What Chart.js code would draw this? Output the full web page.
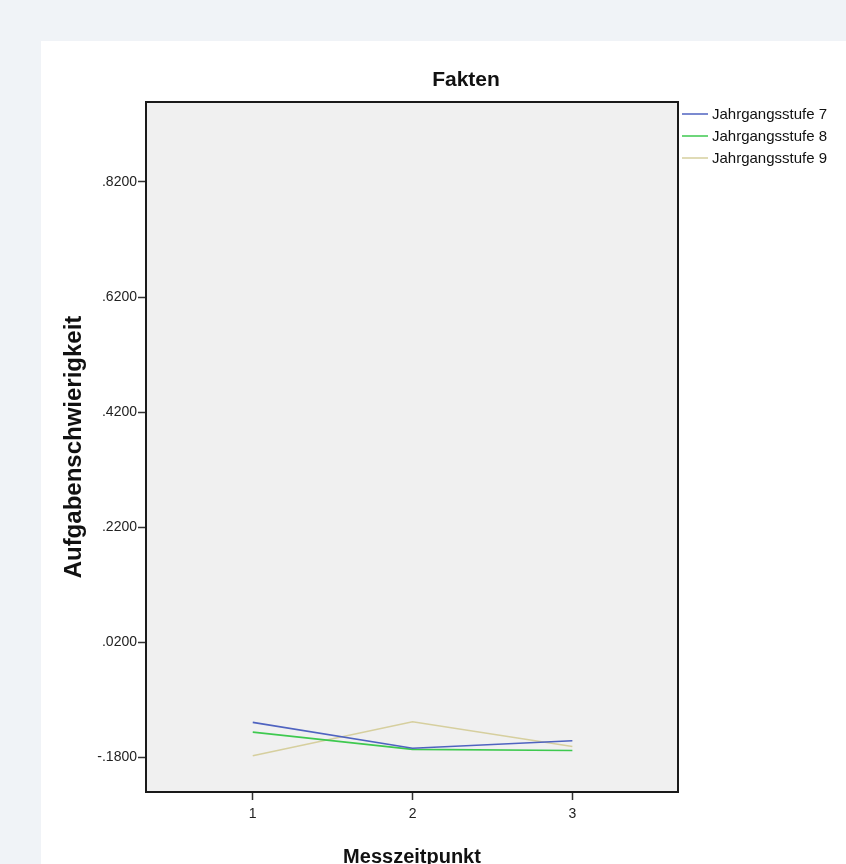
<!DOCTYPE html>
<html>
<head>
<meta charset="utf-8">
<script src="https://cdn.jsdelivr.net/npm/chart.js@4/dist/chart.umd.min.js"></script>
<style>
  html, body { margin: 0; padding: 0; width: 846px; height: 864px; overflow: hidden; background: #f0f3f7; }
  #panel { position: absolute; left: 41px; top: 41px; width: 805px; height: 823px; background: #ffffff; }
  #wrap { position: absolute; left: 0; top: 0; width: 846px; height: 900px; }
</style>
</head>
<body>
<div id="panel"></div>
<div id="wrap"><canvas id="c" width="846" height="900"></canvas></div>
<script>
const chartTitle = 'Fakten';
const xAxisTitle = 'Messzeitpunkt';
const yAxisTitle = 'Aufgabenschwierigkeit';
const messzeitpunkte = [1, 2, 3];
const seriesLabels = ['Jahrgangsstufe 7', 'Jahrgangsstufe 8', 'Jahrgangsstufe 9'];
const stufe7 = [-0.119, -0.164, -0.151];
const stufe8 = [-0.136, -0.166, -0.168];
const stufe9 = [-0.177, -0.118, -0.161];
const yTickValues = [-0.18, 0.02, 0.22, 0.42, 0.62, 0.82];
const xTickValues = [1, 2, 3];
const seriesColors = ['#4f63c0', '#3ec94f', '#d6cf9e'];

const FONT = "'Liberation Sans', Arial, sans-serif";

function toPoints(vals) { return messzeitpunkte.map((x, i) => ({ x: x, y: vals[i] })); }
const allSeries = [stufe7, stufe8, stufe9];

const framePlugin = {
  id: 'frame',
  beforeDatasetsDraw(chart) {
    const a = chart.chartArea, ctx = chart.ctx;
    ctx.save();
    ctx.fillStyle = '#f0f0f0';
    ctx.fillRect(a.left, a.top, a.right - a.left, a.bottom - a.top);
    ctx.restore();
  },
  afterDatasetsDraw(chart) {
    const a = chart.chartArea, ctx = chart.ctx;
    ctx.save();
    ctx.strokeStyle = '#1a1a1a';
    ctx.lineWidth = 2;
    ctx.strokeRect(a.left, a.top, a.right - a.left, a.bottom - a.top);
    // title
    ctx.fillStyle = '#111';
    ctx.font = "bold 21px " + FONT;
    ctx.textAlign = 'center';
    ctx.textBaseline = 'middle';
    ctx.fillText(chartTitle, 466, 80);
    // legend
    ctx.font = "15px " + FONT;
    ctx.textAlign = 'left';
    chart.data.datasets.forEach((ds, i) => {
      const y = 114 + i * 22;
      ctx.strokeStyle = ds.borderColor;
      ctx.lineWidth = 1.5;
      ctx.beginPath();
      ctx.moveTo(682, y);
      ctx.lineTo(708, y);
      ctx.stroke();
      ctx.fillStyle = '#111';
      ctx.fillText(ds.label, 712, y + 1);
    });
    ctx.restore();
  }
};

new Chart(document.getElementById('c'), {
  type: 'line',
  data: {
    datasets: allSeries.map((s, i) => ({
      label: seriesLabels[i],
      data: toPoints(s),
      borderColor: seriesColors[i],
      backgroundColor: seriesColors[i],
      borderWidth: 1.6,
      pointRadius: 0,
      tension: 0,
      fill: false
    }))
  },
  options: {
    responsive: false,
    animation: false,
    events: [],
    layout: { padding: { left: 41, top: 102, right: 168, bottom: 0 } },
    plugins: { legend: { display: false }, title: { display: false }, tooltip: { enabled: false } },
    scales: {
      x: {
        type: 'linear',
        min: 0.332,
        max: 3.661,
        afterBuildTicks: (sc) => { sc.ticks = xTickValues.map(v => ({ value: v })); },
        afterFit: (sc) => { sc.height = 108; },
        grid: { drawOnChartArea: false, drawTicks: true, tickLength: 8, tickColor: '#333', tickWidth: 1.5 },
        border: { display: false },
        ticks: { color: '#222', font: { family: FONT, size: 14 }, padding: 6, maxRotation: 0, callback: (v) => String(v) },
        title: { display: true, text: xAxisTitle, color: '#111', font: { family: FONT, size: 20, weight: 'bold' }, padding: { top: 0, bottom: 31 } }
      },
      y: {
        type: 'linear',
        min: -0.240,
        max: 0.959,
        afterBuildTicks: (sc) => { sc.ticks = yTickValues.map(v => ({ value: v })); },
        afterFit: (sc) => { sc.width = 105; },
        grid: { drawOnChartArea: false, drawTicks: true, tickLength: 8, tickColor: '#333', tickWidth: 1.5 },
        border: { display: false },
        ticks: {
          color: '#222', font: { family: FONT, size: 14 }, padding: 1,
          callback: (v) => (v < 0 ? '-' : '') + Math.abs(v).toFixed(4).replace(/^0/, '')
        },
        title: { display: true, text: yAxisTitle, color: '#111', font: { family: FONT, size: 24, weight: 'bold' }, padding: { top: 19, bottom: 0 } }
      }
    }
  },
  plugins: [framePlugin]
});
</script>
</body>
</html>
